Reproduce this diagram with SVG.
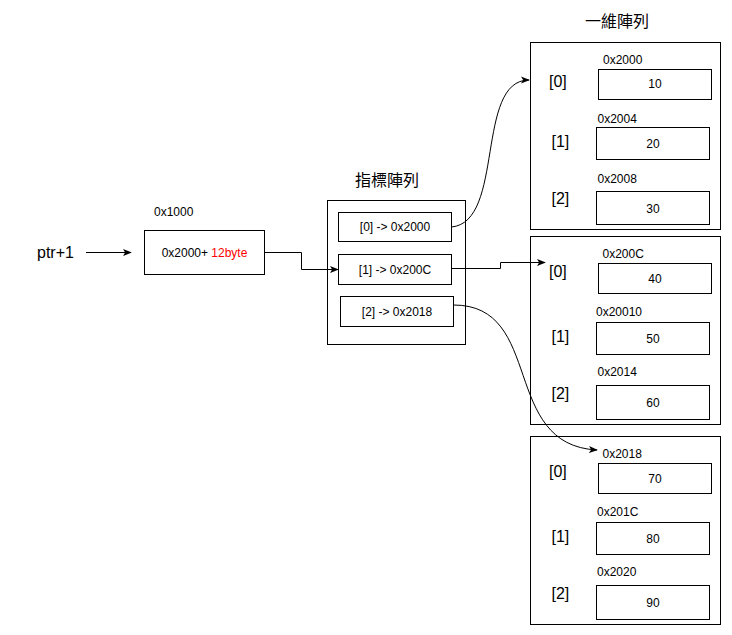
<svg xmlns="http://www.w3.org/2000/svg" width="732" height="635" viewBox="0 0 732 635">
<style>
text{font-family:"Liberation Sans",Arial,"Noto Sans CJK TC",sans-serif;fill:#000}
.box{fill:#fff;stroke:#000;stroke-width:1}
.t12{font-size:12px}
.t11{font-size:12px}
.idx{font-size:16px}
.ttl{font-size:16px;font-family:"Noto Sans CJK TC","Liberation Sans",sans-serif}
.c{text-anchor:middle}
.ln{fill:none;stroke:#000;stroke-width:1}
</style>
<defs>
<marker id="arr" viewBox="0 0 10 10" refX="9" refY="5" markerWidth="9" markerHeight="9" markerUnits="userSpaceOnUse" orient="auto">
<path d="M0,1 L10,5 L0,9 L2.5,5 Z" fill="#000"/>
</marker>
</defs>
<rect width="732" height="635" fill="#fff"/>

<g id="ptr">
<text x="37" y="258" class="idx">ptr+1</text>
</g>

<g id="box1000">
<text x="154" y="216" class="t11">0x1000</text>
<rect class="box" x="144.5" y="230.5" width="120" height="44"/>
<text x="204.5" y="257" class="t12 c">0x2000+ <tspan fill="#ff0000">12byte</tspan></text>
</g>

<g id="ptrArray">
<text x="387" y="186" class="ttl c">指標陣列</text>
<rect class="box" x="327.5" y="200.5" width="138" height="144"/>
<rect class="box" x="338.5" y="212.5" width="113" height="29"/>
<text x="395" y="231" class="t12 c">[0] -&gt; 0x2000</text>
<rect class="box" x="338.5" y="254.5" width="113" height="30"/>
<text x="395" y="273.5" class="t12 c">[1] -&gt; 0x200C</text>
<rect class="box" x="340.5" y="296.5" width="113" height="30"/>
<text x="397" y="315.5" class="t12 c">[2] -&gt; 0x2018</text>
</g>

<g id="arr1">
<text x="617" y="27" class="ttl c">一維陣列</text>
<rect class="box" x="530.5" y="42.5" width="190" height="187"/>
<text x="603" y="64" class="t11">0x2000</text>
<text x="549" y="87" class="idx">[0]</text>
<rect class="box" x="598.5" y="69.5" width="113" height="30"/>
<text x="655" y="88" class="t12 c">10</text>
<text x="597.5" y="123" class="t11">0x2004</text>
<text x="551.5" y="147" class="idx">[1]</text>
<rect class="box" x="596.5" y="127.5" width="113" height="32"/>
<text x="653" y="148" class="t12 c">20</text>
<text x="597.5" y="183" class="t11">0x2008</text>
<text x="551.5" y="204" class="idx">[2]</text>
<rect class="box" x="596.5" y="191.5" width="113" height="33"/>
<text x="653" y="212.5" class="t12 c">30</text>
</g>

<g id="arr2">
<rect class="box" x="530.5" y="236.5" width="190" height="188"/>
<text x="602.5" y="258" class="t11">0x200C</text>
<text x="549" y="277" class="idx">[0]</text>
<rect class="box" x="598.5" y="263.5" width="113" height="30"/>
<text x="655" y="282.5" class="t12 c">40</text>
<text x="596" y="316" class="t11">0x20010</text>
<text x="551.5" y="342" class="idx">[1]</text>
<rect class="box" x="596.5" y="322.5" width="113" height="32"/>
<text x="653" y="342.5" class="t12 c">50</text>
<text x="597.5" y="376" class="t11">0x2014</text>
<text x="551.5" y="399" class="idx">[2]</text>
<rect class="box" x="596.5" y="385.5" width="113" height="34"/>
<text x="653" y="406.5" class="t12 c">60</text>
</g>

<g id="arr3">
<rect class="box" x="530.5" y="436.5" width="190" height="188"/>
<text x="602.5" y="458" class="t11">0x2018</text>
<text x="549" y="477" class="idx">[0]</text>
<rect class="box" x="598.5" y="463.5" width="113" height="30"/>
<text x="655" y="482.5" class="t12 c">70</text>
<text x="597" y="516" class="t11">0x201C</text>
<text x="551.5" y="542" class="idx">[1]</text>
<rect class="box" x="596.5" y="522.5" width="113" height="32"/>
<text x="653" y="542.5" class="t12 c">80</text>
<text x="597" y="576" class="t11">0x2020</text>
<text x="551.5" y="599" class="idx">[2]</text>
<rect class="box" x="596.5" y="585.5" width="113" height="34"/>
<text x="653" y="606.5" class="t12 c">90</text>
</g>

<g id="connectors">
<path class="ln" d="M86,252.5 H131" marker-end="url(#arr)"/>
<path class="ln" d="M264.5,252.5 H301.5 V269.5 H338" marker-end="url(#arr)"/>
<path class="ln" d="M451.5,227 C505,222 475,80 529,80" marker-end="url(#arr)"/>
<path class="ln" d="M451.5,268.5 H500.5 V262.5 H545" marker-end="url(#arr)"/>
<path class="ln" d="M453.5,305 C545,305 500,445 597,450" marker-end="url(#arr)"/>
</g>
</svg>
